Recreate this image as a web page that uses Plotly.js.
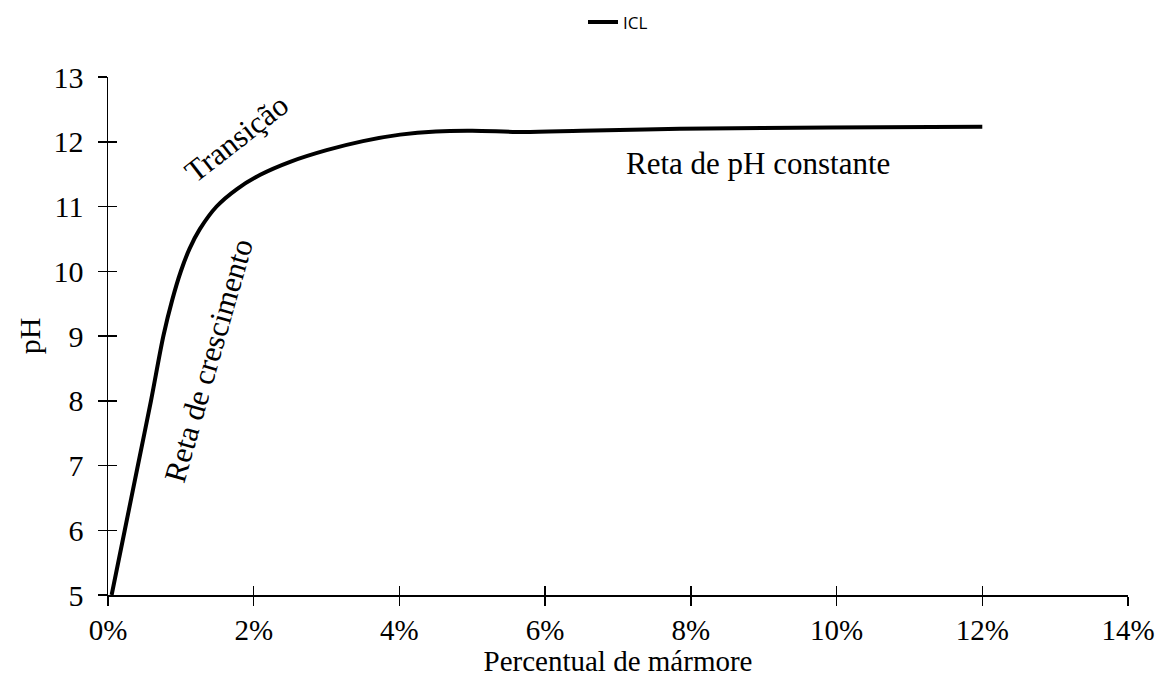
<!DOCTYPE html>
<html>
<head>
<meta charset="utf-8">
<script src="https://cdn.plot.ly/plotly-3.0.1.min.js"></script>
<style>
  html, body { margin: 0; padding: 0; background: #ffffff; }
  #chart { width: 1158px; height: 677px; }
</style>
</head>
<body>
<div id="chart"></div>
<script>
// Percentual de mármore (fraction) and pH
const marmore = [0.0005, 0.0023, 0.0041, 0.0059, 0.0076, 0.0088, 0.0100, 0.0112, 0.0126, 0.0149,
                 0.0177, 0.0209, 0.0250, 0.0300, 0.0350, 0.0401, 0.0450, 0.0500, 0.0570, 0.0650,
                 0.0785, 0.0991, 0.1200];
const ph      = [5.00, 6.00, 7.00, 8.00, 9.00, 9.55, 10.00, 10.35, 10.65, 11.00,
                 11.27, 11.49, 11.69, 11.87, 12.01, 12.11, 12.16, 12.17, 12.15, 12.17,
                 12.20, 12.22, 12.23];
const seriesName = 'ICL';
const xTickVals = [0, 0.02, 0.04, 0.06, 0.08, 0.10, 0.12, 0.14];
const xTickText = ['0%', '2%', '4%', '6%', '8%', '10%', '12%', '14%'];
const yTickVals = [5, 6, 7, 8, 9, 10, 11, 12, 13];
const labels = [
  {text: 'Transição', x: 0.0176, y: 12.05, angle: -38},
  {text: 'Reta de crescimento', x: 0.0138, y: 8.62, angle: -74},
  {text: 'Reta de pH constante', x: 0.0892, y: 11.66, angle: 0}
];

const serif = '"Liberation Serif", "Times New Roman", Times, serif';

const traces = [
  {
    x: marmore, y: ph, name: seriesName, type: 'scatter', mode: 'lines',
    line: {color: '#000000', width: 4, shape: 'spline', smoothing: 0.9},
    hoverinfo: 'x+y'
  },
  {
    // invisible copy so the overlay axes (inner half of the crossing ticks) are drawn
    x: marmore, y: ph, xaxis: 'x2', yaxis: 'y2', type: 'scatter', mode: 'lines',
    line: {color: 'rgba(0,0,0,0)', width: 0}, showlegend: false, hoverinfo: 'skip'
  }
];

const axisCommon = {
  showgrid: false, zeroline: false, showline: true,
  linecolor: '#000000', linewidth: 1.5,
  tickcolor: '#000000', tickwidth: 1.5, ticklen: 9, automargin: false
};

const layout = {
  width: 1158, height: 677,
  margin: {l: 108, r: 30, t: 77, b: 82, autoexpand: false},
  paper_bgcolor: '#ffffff', plot_bgcolor: '#ffffff',
  font: {family: serif, size: 17, color: '#000000'},
  showlegend: true,
  legend: {
    orientation: 'h', x: 0.5, xanchor: 'center',
    yref: 'container', y: 0.967, yanchor: 'middle',
    font: {family: '"Open Sans", sans-serif', size: 17, color: '#000000'},
    bgcolor: 'rgba(0,0,0,0)'
  },
  xaxis: Object.assign({}, axisCommon, {
    range: [0, 0.14], tickmode: 'array', tickvals: xTickVals, ticktext: xTickText,
    ticks: 'outside',
    tickfont: {family: serif, size: 29, color: '#000000'},
    title: {text: 'Percentual de mármore', font: {family: serif, size: 29, color: '#000000'}, standoff: 3}
  }),
  yaxis: Object.assign({}, axisCommon, {
    range: [5, 13], tickmode: 'array', tickvals: yTickVals,
    ticks: 'outside', ticklabelstandoff: 8,
    tickfont: {family: serif, size: 30, color: '#000000'},
    title: {text: 'pH', font: {family: serif, size: 30, color: '#000000'}, standoff: 4}
  }),
  xaxis2: Object.assign({}, axisCommon, {
    range: [0, 0.14], tickmode: 'array', tickvals: xTickVals, ticks: 'inside',
    showticklabels: false, overlaying: 'x', anchor: 'y2', side: 'bottom'
  }),
  yaxis2: Object.assign({}, axisCommon, {
    range: [5, 13], tickmode: 'array', tickvals: yTickVals, ticks: 'inside',
    showticklabels: false, overlaying: 'y', anchor: 'x2', side: 'left'
  }),
  annotations: labels.map(a => ({
    text: a.text, x: a.x, y: a.y, xref: 'x', yref: 'y', showarrow: false,
    textangle: a.angle, xanchor: 'center', yanchor: 'middle',
    font: {family: serif, size: 31, color: '#000000'}
  }))
};

Plotly.newPlot('chart', traces, layout, {displayModeBar: false, staticPlot: true});
</script>
</body>
</html>
